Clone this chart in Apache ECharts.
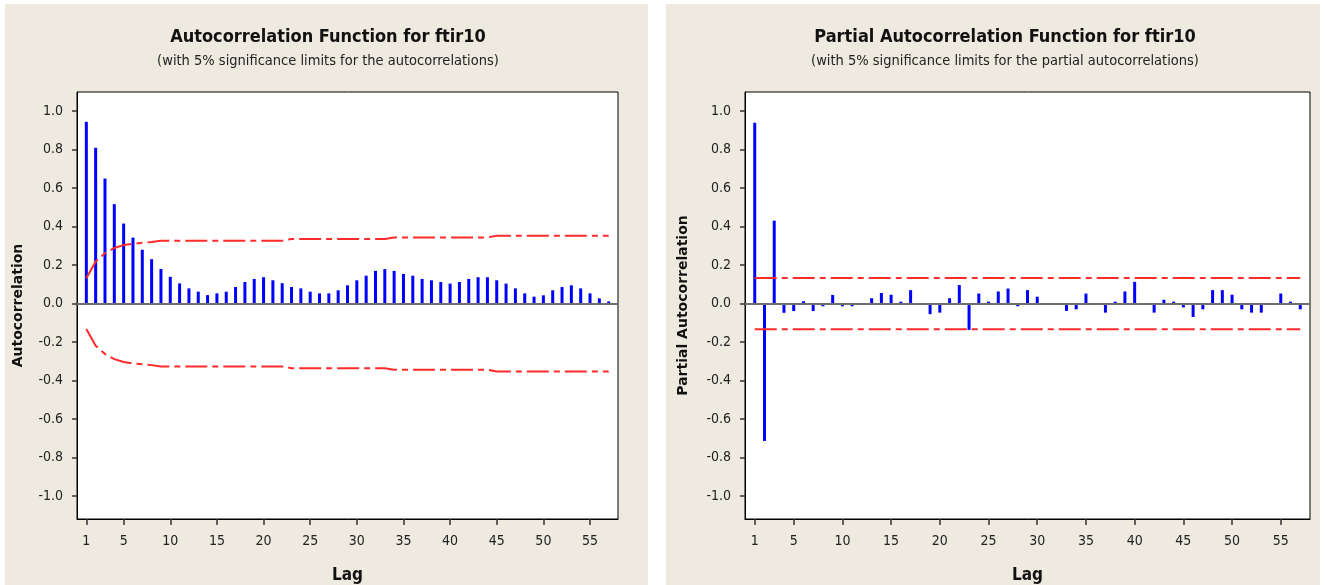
<!doctype html>
<html lang="">
<head>
    <meta charset="utf-8">
    <title>ACF / PACF - ftir10</title>
    <script src="https://cdn.jsdelivr.net/npm/echarts@6.0.0/dist/echarts.min.js"></script>
    <style>
        body { margin: 0; background: #fff; }
        .panel { position: absolute; top: 4px; height: 581px; background: #eeeae0; }
        #acf { left: 5px; width: 643px; }
        #pacf { left: 666px; width: 654px; }
    </style>
</head>
<body>
    <div id="acf" class="panel"></div>
    <div id="pacf" class="panel"></div>

    <script type="text/javascript">
        // lags 1..57
        var lags = [];
        for (var i = 1; i <= 57; i++) lags.push(i);

        var acfValues = [
            0.945, 0.81, 0.65, 0.517, 0.416, 0.343, 0.28, 0.231, 0.18, 0.139,
            0.105, 0.079, 0.062, 0.044, 0.053, 0.062, 0.086, 0.112, 0.128, 0.137,
            0.121, 0.106, 0.086, 0.079, 0.062, 0.053, 0.053, 0.069, 0.095, 0.121,
            0.145, 0.17, 0.179, 0.17, 0.154, 0.145, 0.128, 0.121, 0.112, 0.104,
            0.112, 0.128, 0.137, 0.137, 0.121, 0.104, 0.079, 0.053, 0.036, 0.043,
            0.069, 0.086, 0.095, 0.079, 0.053, 0.027, 0.011
        ];

        // upper 5% limit for the autocorrelations (lower one is the mirror)
        var acfLimit = [
            0.132, 0.219, 0.262, 0.289, 0.304, 0.311, 0.316, 0.320, 0.327, 0.327,
            0.327, 0.327, 0.327, 0.327, 0.327, 0.327, 0.327, 0.327, 0.327, 0.327,
            0.327, 0.327, 0.336, 0.336, 0.336, 0.336, 0.336, 0.336, 0.336, 0.336,
            0.336, 0.336, 0.336, 0.344, 0.344, 0.344, 0.344, 0.344, 0.344, 0.344,
            0.344, 0.344, 0.344, 0.344, 0.353, 0.353, 0.353, 0.353, 0.353, 0.353,
            0.353, 0.353, 0.353, 0.353, 0.353, 0.353, 0.353
        ];

        var pacfValues = [
            0.94, -0.714, 0.431, -0.048, -0.039, 0.012, -0.039, -0.014, 0.045, -0.014,
            -0.014, 0.0, 0.028, 0.055, 0.046, 0.01, 0.07, 0.0, -0.055, -0.047,
            0.028, 0.096, -0.137, 0.052, 0.01, 0.063, 0.078, -0.014, 0.07, 0.036,
            0.0, 0.003, -0.038, -0.03, 0.052, 0.0, -0.047, 0.01, 0.063, 0.113,
            -0.003, -0.047, 0.02, 0.01, -0.02, -0.07, -0.03, 0.07, 0.07, 0.046,
            -0.03, -0.047, -0.047, 0.0, 0.052, 0.01, -0.03
        ];

        var pacfLimit = 0.133;

        var xTicks = [1, 5, 10, 15, 20, 25, 30, 35, 40, 45, 50, 55];
        var yTicks = [-1, -0.8, -0.6, -0.4, -0.2, 0, 0.2, 0.4, 0.6, 0.8, 1];

        var FONT = "'Liberation Sans Narrow', 'DejaVu Sans Condensed', 'Liberation Sans', sans-serif";
        var WIDE = "'DejaVu Sans', Verdana, sans-serif";

        function buildOption(cfg) {
            var bars = lags.map(function (lag, idx) { return [lag, cfg.values[idx]]; });
            var upper = lags.map(function (lag, idx) { return [lag, cfg.limits[idx]]; });
            var lower = lags.map(function (lag, idx) { return [lag, -cfg.limits[idx]]; });
            var limitStyle = { color: '#ff2b2b', width: 2, type: [22, 5, 6, 5] };

            return {
                animation: false,
                textStyle: { fontFamily: FONT },
                title: [{
                    text: cfg.title,
                    left: cfg.titleCenter, top: 19, textAlign: 'center',
                    textStyle: { fontFamily: FONT, fontSize: 18, fontWeight: 'bold', color: '#111' }
                }, {
                    text: cfg.subtitle,
                    left: cfg.titleCenter, top: 45, textAlign: 'center',
                    textStyle: { fontFamily: FONT, fontSize: 14.5, fontWeight: 'normal', color: '#222' }
                }],
                grid: {
                    left: cfg.gridLeft, top: 88, width: cfg.gridWidth, height: 427,
                    containLabel: false, outerBoundsMode: 'none',
                    show: true, backgroundColor: '#fff', borderColor: '#000', borderWidth: 1
                },
                xAxis: {
                    type: 'value', min: 0, max: 58,
                    name: 'Lag', nameLocation: 'middle', nameGap: 48,
                    nameTextStyle: { fontFamily: FONT, fontSize: 17, fontWeight: 'bold', color: '#111' },
                    axisLine: { onZero: false, lineStyle: { color: '#000' } },
                    axisTick: { customValues: xTicks, length: 6, lineStyle: { color: '#333', width: 1.5 } },
                    axisLabel: { customValues: xTicks, margin: 15, fontSize: 14, color: '#222', fontFamily: FONT },
                    splitLine: { show: false }
                },
                yAxis: {
                    type: 'value', min: -1.12, max: 1.1,
                    name: cfg.yName, nameLocation: 'middle', nameGap: cfg.yNameGap, nameRotate: 90,
                    nameTextStyle: { fontFamily: WIDE, fontSize: 14, fontWeight: 'bold', color: '#111' },
                    axisLine: { show: true, lineStyle: { color: '#000' } },
                    axisTick: { customValues: yTicks, length: 5, lineStyle: { color: '#333', width: 1.5 } },
                    axisLabel: {
                        customValues: yTicks, margin: 14, fontSize: 14, color: '#222', fontFamily: FONT,
                        formatter: function (v) { return v.toFixed(1); }
                    },
                    splitLine: { show: false }
                },
                series: [{
                    type: 'bar',
                    data: bars,
                    barWidth: 3,
                    itemStyle: { color: '#0000ff' },
                    markLine: {
                        silent: true, symbol: 'none', label: { show: false },
                        lineStyle: { color: '#707070', width: 2, type: 'solid' },
                        data: [{ yAxis: 0 }]
                    }
                }, {
                    type: 'line', data: upper, symbol: 'none', lineStyle: limitStyle, z: 3
                }, {
                    type: 'line', data: lower, symbol: 'none', lineStyle: limitStyle, z: 3
                }]
            };
        }

        var acfChart = echarts.init(document.getElementById('acf'));
        acfChart.setOption(buildOption({
            title: 'Autocorrelation Function for ftir10',
            subtitle: '(with 5% significance limits for the autocorrelations)',
            titleCenter: 318,
            gridLeft: 72, gridWidth: 541,
            yName: 'Autocorrelation', yNameGap: 52,
            values: acfValues, limits: acfLimit
        }));

        var pacfChart = echarts.init(document.getElementById('pacf'));
        pacfChart.setOption(buildOption({
            title: 'Partial Autocorrelation Function for ftir10',
            subtitle: '(with 5% significance limits for the partial autocorrelations)',
            titleCenter: 334,
            gridLeft: 79, gridWidth: 565,
            yName: 'Partial Autocorrelation', yNameGap: 55,
            values: pacfValues, limits: lags.map(function () { return pacfLimit; })
        }));
    </script>
</body>
</html>
